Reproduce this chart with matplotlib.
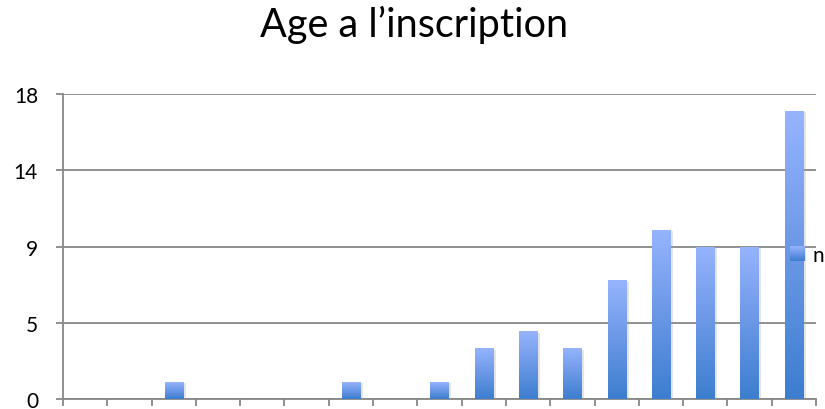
import numpy as np
import matplotlib
matplotlib.use("Agg")
import matplotlib.pyplot as plt
from matplotlib.colors import LinearSegmentedColormap
from matplotlib.legend_handler import HandlerBase
from matplotlib.image import BboxImage
from matplotlib.transforms import Bbox, TransformedBbox
from matplotlib.patches import Patch
import matplotlib.patheffects as pe

# Data
counts = [0, 0, 1, 0, 0, 0, 1, 0, 1, 3, 4, 3, 7, 10, 9, 9, 17]
series_name = "n"
title = "Age a l\u2019inscription"
ytick_values = [0, 4.5, 9, 13.5, 18]
ytick_labels = ["0", "5", "9", "14", "18"]

FONT = "Lato"
GRID = "#878787"
cmap = LinearSegmentedColormap.from_list(
    "bar", ["#3d7ecf", "#6a97e6", "#96b4fd"])
grad = np.linspace(0, 1, 256).reshape(-1, 1)

fig = plt.figure(figsize=(8.25, 4.10), dpi=100)
W, H = 825, 410
ax = fig.add_axes([63 / W, 10 / H, (816 - 63) / W, (400 - 95) / H])

x = np.arange(len(counts))

bars = ax.bar(x, counts, width=0.41, color="#6a97e6", zorder=3,
              path_effects=[pe.SimplePatchShadow(offset=(2, -1),
                                                 shadow_rgbFace="#a0a0a0",
                                                 alpha=0.28),
                            pe.Normal()])
for b in bars:
    h = b.get_height()
    if h <= 0:
        continue
    x0 = b.get_x()
    im = ax.imshow(grad, cmap=cmap, origin="lower", aspect="auto",
                   extent=(x0, x0 + b.get_width(), 0, h), zorder=4,
                   interpolation="bicubic")
    im.set_clip_path(b)
ax.set_xlim(-0.5, len(counts) - 0.5)
ax.set_ylim(ytick_values[0], ytick_values[-1])

# Horizontal gridlines
ax.set_yticks(ytick_values)
ax.set_yticklabels(ytick_labels)
ax.yaxis.grid(True, color=GRID, linewidth=1.3, zorder=1)
ax.set_axisbelow(True)

ax.set_xticks(np.arange(len(counts) + 1) - 0.5)
ax.set_xticklabels([])
ax.tick_params(axis="both", colors=GRID, length=5, width=1.3, direction="out")
ax.tick_params(axis="y", labelcolor="black", labelsize=15, pad=13)
for lbl in ax.get_yticklabels():
    lbl.set_fontfamily(FONT)

for side in ("top", "right"):
    ax.spines[side].set_visible(False)
for side in ("left", "bottom"):
    ax.spines[side].set_color(GRID)
    ax.spines[side].set_linewidth(1.3)


class GradientHandler(HandlerBase):
    def create_artists(self, legend, orig_handle, xdescent, ydescent,
                       width, height, fontsize, trans):
        bb = Bbox.from_bounds(-xdescent, -ydescent, width, height)
        img = BboxImage(TransformedBbox(bb, trans), cmap=cmap,
                        origin="lower", interpolation="bicubic")
        img.set_data(grad)
        return [img]


handle = Patch(color="#6a97e6")
fig.legend([handle], [series_name], handler_map={Patch: GradientHandler()},
           loc="center left", bbox_to_anchor=(790 / W, 1 - 256 / H),
           frameon=False, borderpad=0, borderaxespad=0,
           handlelength=0.7, handleheight=0.7, handletextpad=0.4,
           prop={"family": FONT, "size": 15})

fig.text(0.502, 1 - 37 / H, title, ha="center", va="baseline",
         fontfamily=FONT, fontsize=28.5)

fig.savefig("out.png", dpi=100)
